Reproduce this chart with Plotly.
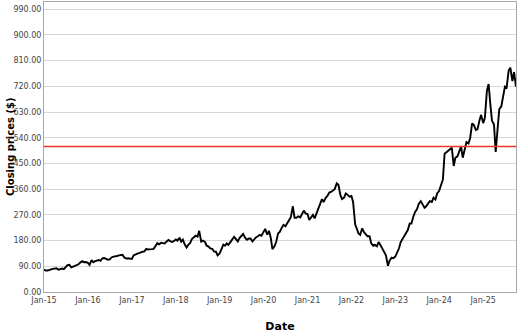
import pandas as pd
import plotly.graph_objects as go

# Semi-monthly closing prices (1st and 15th of each month), Jan 2015 - Oct 2025
prices_2015 = [78, 75, 75, 76, 79, 81, 82, 83, 78, 81, 82, 80, 87, 94, 95, 86, 89, 92, 94, 97, 104, 108, 104, 105]
prices_2016 = [102, 95, 112, 104, 108, 111, 112, 109, 118, 119, 117, 113, 114, 121, 124, 124, 126, 128, 128, 130, 120, 117, 118, 117]
prices_2017 = [116, 128, 133, 134, 136, 139, 141, 142, 151, 149, 151, 150, 151, 162, 171, 167, 172, 171, 170, 176, 182, 178, 175, 178]
prices_2018 = [184, 180, 190, 176, 183, 168, 156, 165, 172, 185, 192, 197, 194, 214, 176, 180, 175, 162, 159, 153, 151, 142, 141, 128]
prices_2019 = [135, 150, 166, 162, 170, 165, 175, 180, 193, 186, 177, 189, 196, 203, 190, 183, 187, 187, 177, 184, 192, 195, 200, 197]
prices_2020 = [209, 221, 201, 214, 190, 150, 160, 175, 205, 210, 225, 235, 230, 240, 253, 262, 300, 260, 260, 265, 261, 275, 285, 275]
prices_2021 = [273, 252, 262, 270, 258, 275, 295, 306, 325, 315, 330, 336, 348, 350, 355, 360, 380, 375, 340, 325, 330, 345, 340, 334]
prices_2022 = [336, 315, 237, 218, 205, 200, 223, 210, 200, 195, 195, 170, 162, 165, 160, 175, 163, 150, 137, 128, 92, 110, 120, 118]
prices_2023 = [124, 136, 153, 175, 185, 195, 212, 217, 240, 240, 265, 280, 290, 308, 318, 305, 295, 300, 310, 318, 315, 330, 324, 345]
prices_2024 = [354, 375, 394, 484, 490, 495, 500, 505, 441, 470, 475, 495, 510, 470, 497, 525, 520, 540, 590, 585, 567, 570, 600, 620]
prices_2025 = [591, 610, 704, 728, 660, 600, 586, 490, 572, 640, 650, 690, 719, 715, 775, 785, 738, 770, 718]

closing_prices = (prices_2015 + prices_2016 + prices_2017 + prices_2018 + prices_2019 + prices_2020
                  + prices_2021 + prices_2022 + prices_2023 + prices_2024 + prices_2025)
dates = pd.date_range(start="2015-01-01", periods=len(closing_prices), freq="SMS")

reference_level = 509
tick_dates = pd.date_range(start="2015-01-01", end="2025-01-01", freq="YS")
tick_labels = [d.strftime("%b-%y") for d in tick_dates]
y_ticks = list(range(0, 991, 90))
y_tick_labels = [f"{v:.2f}" for v in y_ticks]

fig = go.Figure()
fig.add_trace(go.Scatter(x=dates, y=closing_prices, mode="lines",
                         line=dict(color="black", width=1.9), showlegend=False))
fig.add_trace(go.Scatter(x=[dates[0], pd.Timestamp("2025-10-01")], y=[reference_level, reference_level],
                         mode="lines", line=dict(color="#e8362c", width=1.6), showlegend=False))

font = "DejaVu Sans, Verdana, sans-serif"
fig.update_layout(
    width=528, height=336,
    margin=dict(l=44, r=12, t=2, b=44),
    paper_bgcolor="white", plot_bgcolor="white",
    font=dict(family=font, size=8, color="#444444"),
    annotations=[dict(
        text="<b>Closing prices ($)</b>", textangle=-90,
        xref="paper", yref="paper", x=-34 / 472, y=0.5,
        xanchor="center", yanchor="middle", showarrow=False,
        font=dict(size=10, color="#000000"),
    )],
)
fig.update_xaxes(
    range=["2015-01-01", "2025-10-01"],
    tickvals=tick_dates, ticktext=tick_labels,
    showgrid=False, showline=True, linecolor="#a8a8a8", linewidth=1, mirror=True,
    ticks="", tickfont=dict(size=8, color="#444444"),
    title=dict(text="<b>Date</b>", font=dict(size=11, color="#000000"), standoff=18),
    zeroline=False,
)
fig.update_yaxes(
    range=[0, 1015],
    tickvals=y_ticks, ticktext=y_tick_labels,
    showgrid=True, gridcolor="#d6d6d6", gridwidth=1,
    showline=True, linecolor="#a8a8a8", linewidth=1, mirror=True,
    ticks="", tickfont=dict(size=8, color="#444444"),
    zeroline=False,
)

fig.write_html("out.html")
